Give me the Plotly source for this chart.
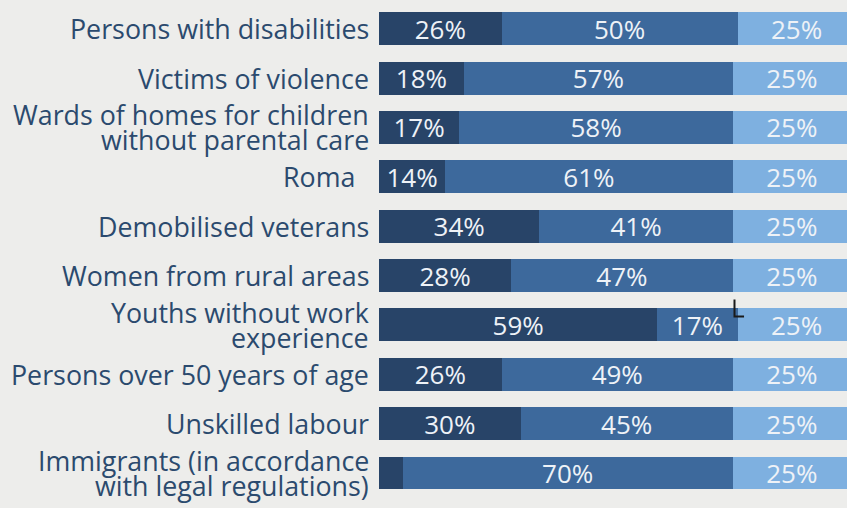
import plotly.graph_objects as go

categories = [
    "Persons with disabilities",
    "Victims of violence",
    "Wards of homes for children<br>without parental care",
    "Roma\u00a0\u00a0",
    "Demobilised veterans",
    "Women from rural areas",
    "Youths without work<br>experience",
    "Persons over 50 years of age",
    "Unskilled labour",
    "Immigrants (in accordance<br>with legal regulations)",
]
series1 = [26, 18, 17, 14, 34, 28, 59, 26, 30, 5]
series2 = [50, 57, 58, 61, 41, 47, 17, 49, 45, 70]
series3 = [25, 25, 25, 25, 25, 25, 25, 25, 25, 25]

colors = ["#284468", "#3d699c", "#7eb0e0"]
bg = "#ededeb"
font_family = "Open Sans"
label_color = "#2b4a6e"
label_size = 26.8
value_size = 26
line_spacing = 25

fig = go.Figure()
for vals, col in zip([series1, series2, series3], colors):
    fig.add_trace(go.Bar(
        y=categories, x=vals, orientation="h",
        marker=dict(color=col, line=dict(width=0)),
        text=[f"{v}%" if v >= 10 else "" for v in vals],
        textposition="inside", insidetextanchor="middle",
        textangle=0, constraintext="none",
        textfont=dict(color="#eef2f7", size=value_size, family=font_family),
        hoverinfo="skip",
    ))

# category labels: one text per line so the tight line spacing of the reference is kept
annotations = []
for cat in categories:
    lines = cat.split("<br>")
    n = len(lines)
    for k, line in enumerate(lines):
        annotations.append(dict(
            x=0, xref="paper", y=cat, yref="y",
            text=line, showarrow=False,
            xanchor="right", yanchor="middle",
            xshift=-8, yshift=((n - 1) / 2 - k) * line_spacing,
            font=dict(family=font_family, size=label_size, color=label_color),
        ))

fig.update_layout(
    barmode="stack",
    bargap=0.333,
    width=847, height=508,
    margin=dict(l=379, r=0, t=4, b=2),
    paper_bgcolor=bg, plot_bgcolor=bg,
    showlegend=False,
    font=dict(family=font_family, size=label_size, color=label_color),
    annotations=annotations,
    shapes=[dict(
        type="path", xref="paper", yref="paper",
        path="M 0.7596 0.4114 L 0.7596 0.3775 L 0.780 0.3775",
        line=dict(color="#1a1a1a", width=2), layer="above",
    )],
)
fig.update_xaxes(range=[0, 99.2], visible=False, showgrid=False, zeroline=False)
fig.update_yaxes(autorange="reversed", showgrid=False, zeroline=False,
                 ticks="", showticklabels=False)

fig.write_html("out.html")
